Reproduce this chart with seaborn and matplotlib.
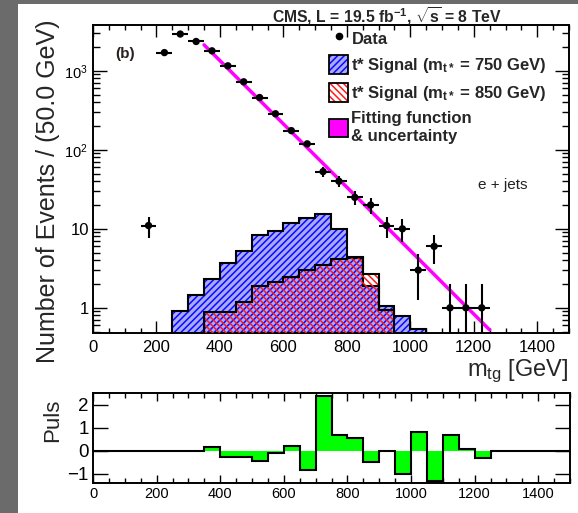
import numpy as np
import matplotlib
matplotlib.use("Agg")
import matplotlib.pyplot as plt
from matplotlib.patches import Patch, Rectangle
from matplotlib.lines import Line2D
from matplotlib.ticker import FixedLocator, MultipleLocator, NullFormatter, LogLocator
import seaborn as sns

sns.set_theme(style="ticks")
plt.rcParams["font.family"] = ["Liberation Sans", "DejaVu Sans"]
plt.rcParams["mathtext.fontset"] = "custom"
plt.rcParams["mathtext.rm"] = "Liberation Sans"
plt.rcParams["mathtext.it"] = "Liberation Sans:italic"
plt.rcParams["mathtext.bf"] = "Liberation Sans:bold"
plt.rcParams["hatch.linewidth"] = 1.1

# ---- observed data (bin centres in GeV, events per 50 GeV) ----
data_mass = [175, 225, 275, 325, 375, 425, 475, 525, 575, 625, 675,
             725, 775, 825, 875, 925, 975, 1025, 1075, 1125, 1175, 1225]
data_counts = [11, 1700, 2920, 2350, 1790, 1157, 726, 459, 286, 175, 119,
               53, 40, 25, 20, 11, 10, 3, 6, 1, 1, 1]

# ---- background fit curve (sampled) ----
fit_mass = [350, 500, 650, 800, 950, 1100, 1250]
fit_values = [2130, 535, 134, 33.6, 8.4, 2.1, 0.525]

# ---- signal templates (bin edges in GeV) ----
sig750_edges = [250, 300, 350, 400, 450, 500, 550, 600, 650, 700, 750,
                800, 850, 900, 950, 1000, 1050]
sig750_values = [0.92, 1.46, 2.3, 3.7, 5.25, 8.4, 9.4, 12.0, 13.6, 15.2,
                 10.0, 4.3, 1.9, 1.06, 0.78, 0.54]
sig850_edges = [350, 400, 450, 500, 550, 600, 650, 700, 750, 800, 850,
                900, 950]
sig850_values = [0.88, 0.88, 1.2, 1.9, 2.15, 2.45, 3.0, 3.5, 4.1, 4.45,
                 2.65, 0.95]

# ---- pulls ----
pull_edges = [0, 50, 100, 150, 200, 250, 300, 350, 400, 450, 500, 550,
              600, 650, 700, 750, 800, 850, 900, 950, 1000, 1050, 1100,
              1150, 1200, 1250, 1300, 1350, 1400, 1450, 1500]
pull_values = [0, 0, 0, 0, 0, 0, 0, 0.14, -0.28, -0.28, -0.43, -0.10,
               0.22, -0.83, 2.39, 0.70, 0.55, -0.51, 0.0, -1.0, 0.80,
               -1.30, 0.70, 0.07, -0.32, 0, 0, 0, 0, 0]

W, H = 578, 513
fig = plt.figure(figsize=(W / 100, H / 100), dpi=100)
fig.patch.set_facecolor("#6b6b6b")
fig.patches.append(Rectangle((18 / W, 0), 1, (H - 4) / H,
                             transform=fig.transFigure, facecolor="white",
                             edgecolor="none", zorder=-10))


def fbox(x0, y0, x1, y1):
    return [x0 / W, 1 - y1 / H, (x1 - x0) / W, (y1 - y0) / H]


ax = fig.add_axes(fbox(93, 25, 569, 333))
axp = fig.add_axes(fbox(93, 393, 570, 483))

# ---- upper panel ----
ax.set_yscale("log")
ax.set_xlim(0, 1500)
ax.set_ylim(0.48, 3800)

blue_face = "#a9a9ff"
blue_hatch = "#0a0aff"
red_hatch = "#ff1a1a"
ax.stairs(sig750_values, sig750_edges, baseline=1e-3, fill=True,
          facecolor=blue_face, edgecolor=blue_hatch, hatch="/////",
          linewidth=0, zorder=1)
ax.stairs(sig750_values, sig750_edges, baseline=1e-3, fill=False,
          color="black", linewidth=1.5, zorder=2)
ax.stairs(sig850_values, sig850_edges, baseline=1e-3, fill=True,
          facecolor="none", edgecolor=red_hatch, hatch="\\\\\\\\\\",
          linewidth=0, zorder=3)
ax.stairs(sig850_values, sig850_edges, baseline=1e-3, fill=False,
          color="black", linewidth=1.5, zorder=4)

sns.lineplot(x=fit_mass, y=fit_values, ax=ax, color="#ff00ff",
             linewidth=2.5, zorder=5)

counts = np.array(data_counts, dtype=float)
ax.errorbar(data_mass, counts, xerr=25, yerr=np.sqrt(counts), fmt="none",
            ecolor="black", elinewidth=1.5, capsize=0, zorder=6)
sns.scatterplot(x=data_mass, y=data_counts, ax=ax, color="black", s=28,
                edgecolor="none", zorder=7)

ax.yaxis.set_major_locator(FixedLocator([1, 10, 100, 1000]))
ax.set_yticklabels(["1", "10", r"10$^{2}$ ", r"10$^{3}$ "])
ax.yaxis.set_minor_locator(LogLocator(base=10, subs=np.arange(2, 10)))
ax.yaxis.set_minor_formatter(NullFormatter())
ax.xaxis.set_major_locator(MultipleLocator(200))
ax.xaxis.set_minor_locator(MultipleLocator(50))

for a in (ax, axp):
    for s in a.spines.values():
        s.set_linewidth(1.4)
        s.set_color("black")
    a.set_facecolor("white")
    a.tick_params(which="both", direction="in", top=True, right=True,
                  colors="black", width=1.0)
    a.tick_params(which="minor", length=3.8)

ax.tick_params(axis="x", which="major", length=8.5, labelsize=12, pad=5)
ax.tick_params(axis="y", which="major", length=10, labelsize=12, pad=3)
ax.tick_params(axis="y", which="minor", length=5)
for lab in ax.get_yticklabels()[2:]:
    lab.set_fontsize(10.5)

ax.set_ylabel("Number of Events / (50.0 GeV)", fontsize=18)
ax.yaxis.set_label_coords(-0.07, 0.46)
ax.set_xlabel(r"m$_{\mathrm{tg}}$ [GeV]", fontsize=17, labelpad=2)
ax.xaxis.set_label_coords(1.0, -0.08)
ax.xaxis.label.set_horizontalalignment("right")

ax.text(0.047, 0.905, "(b)", transform=ax.transAxes, fontsize=11,
        fontweight="bold", color="#2a2222", va="center", ha="left")
ax.text(0.86, 0.48, "e + jets", transform=ax.transAxes, fontsize=11,
        color="#222222", ha="center", va="center")
fig.text(387 / W, 1 - 16 / H,
         r"CMS, L = 19.5 fb$^{\mathbf{-1}}$, $\sqrt{\mathbf{s}}$ = 8 TeV",
         fontsize=11.3, fontweight="bold", ha="center", va="center")

# legend
h_data = Line2D([], [], marker="o", color="black", linestyle="none",
                markersize=4.5)
h_750 = (Patch(facecolor=blue_face, edgecolor=blue_hatch, hatch="/////",
               linewidth=0),
         Patch(facecolor="none", edgecolor="black", linewidth=1.3))
h_850 = (Patch(facecolor="white", edgecolor=red_hatch, hatch="\\\\\\\\\\",
               linewidth=0),
         Patch(facecolor="none", edgecolor="black", linewidth=1.3))
h_fit = Patch(facecolor="#ff00ff", edgecolor="black", linewidth=1.3)
leg = ax.legend([h_data, h_750, h_850, h_fit],
                ["Data",
                 r"t* Signal (m$_{\mathbf{t*}}$ = 750 GeV)",
                 r"t* Signal (m$_{\mathbf{t*}}$ = 850 GeV)",
                 "Fitting function\n& uncertainty"],
                loc="upper left", bbox_to_anchor=(329 / W, 1 - 29 / H),
                bbox_transform=fig.transFigure, frameon=False,
                borderpad=0, borderaxespad=0, handlelength=1.15,
                handleheight=1.3, handletextpad=0.2, labelspacing=0.5,
                prop={"weight": "bold", "size": 12})

# ---- pull panel ----
pulls = np.array(pull_values)
axp.stairs(pulls, pull_edges, baseline=0, fill=True, color="#00ff00",
           linewidth=0, zorder=1)
axp.stairs(pulls, pull_edges, baseline=None, fill=False, color="black",
           linewidth=1.5, zorder=2)
axp.set_xlim(0, 1500)
axp.set_ylim(-1.4, 2.5)
axp.xaxis.set_major_locator(MultipleLocator(200))
axp.xaxis.set_minor_locator(MultipleLocator(50))
axp.yaxis.set_major_locator(FixedLocator([-1, 0, 1, 2]))
axp.tick_params(axis="y", which="minor", left=False, right=False)
axp.tick_params(axis="x", which="major", length=6, labelsize=10.5, pad=3)
axp.tick_params(axis="y", which="major", length=11, labelsize=13.5, pad=3)
axp.set_ylabel("Puls", fontsize=16)
axp.yaxis.set_label_coords(-0.062, 0.7)

fig.savefig("out.png", dpi=100, facecolor=fig.get_facecolor())
